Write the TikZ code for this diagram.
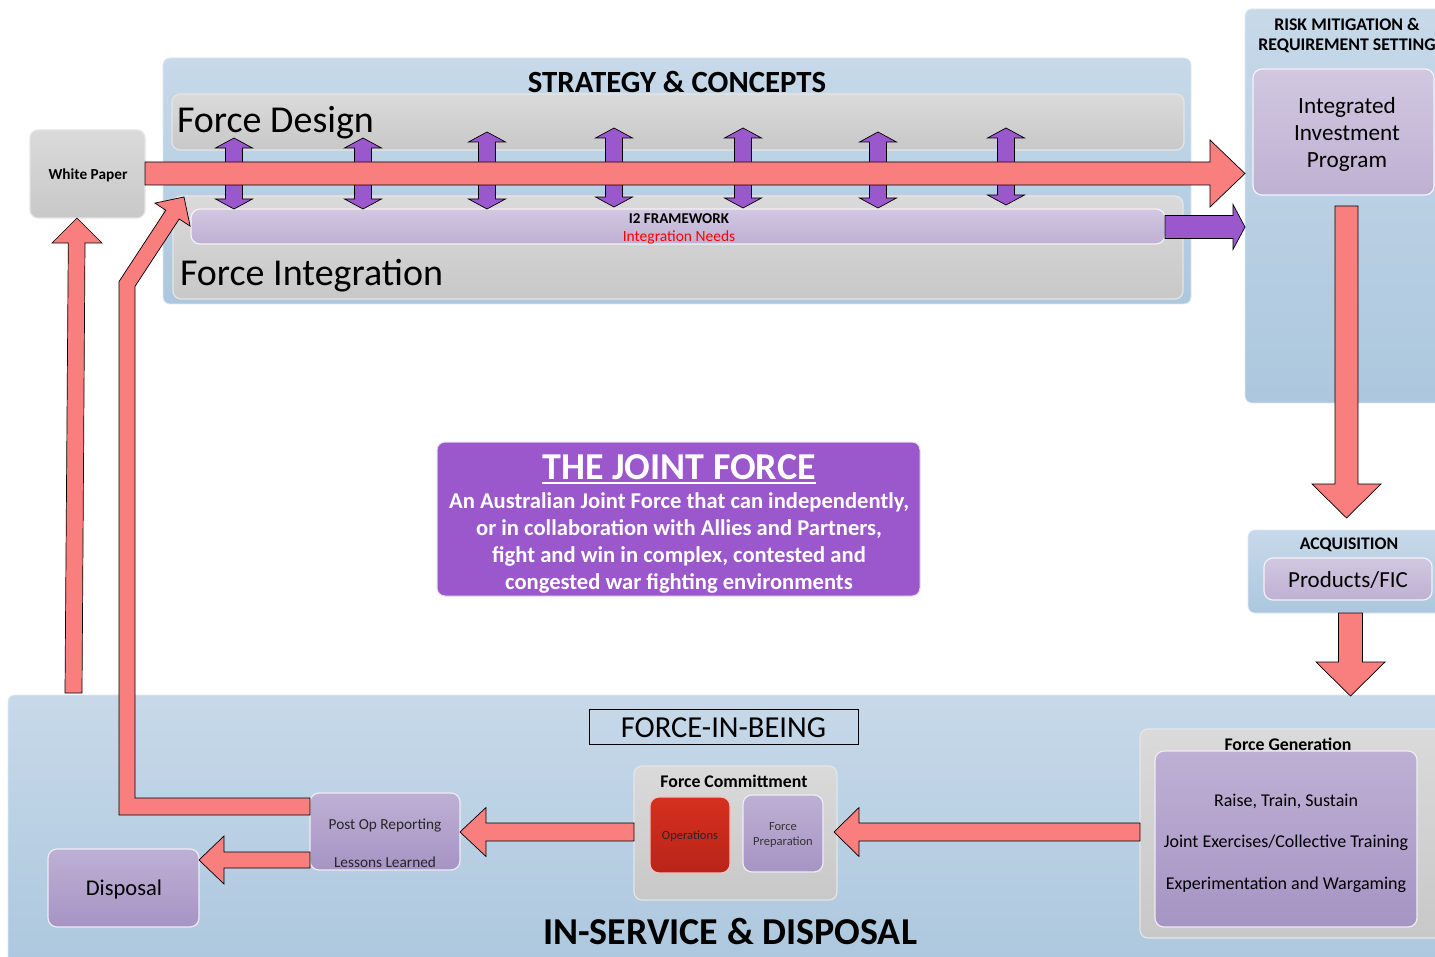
\documentclass[tikz,border=0pt]{standalone}
\usepackage{fontspec}
\setmainfont{Carlito}
\definecolor{pnltop}{RGB}{199,217,233}
\definecolor{pnlbot}{RGB}{172,199,222}
\definecolor{gtop}{RGB}{218,218,218}
\definecolor{gbot}{RGB}{200,200,200}
\definecolor{lavtop}{RGB}{190,176,212}
\definecolor{lavbot}{RGB}{166,148,196}
\definecolor{lavltop}{RGB}{210,200,225}
\definecolor{lavlbot}{RGB}{190,176,210}
\definecolor{salmon}{RGB}{249,126,126}
\definecolor{purp}{RGB}{155,87,204}
\definecolor{redtop}{RGB}{214,48,30}
\definecolor{redbot}{RGB}{184,36,26}
\newcommand\myharrow[7][blockred]{\filldraw[#1] (#2,{#4-#5}) -- ({#3-(#7)},{#4-#5}) -- ({#3-(#7)},{#4-#6}) -- (#3,#4) -- ({#3-(#7)},{#4+#6}) -- ({#3-(#7)},{#4+#5}) -- (#2,{#4+#5}) -- cycle;}
\newcommand\myvarrow[7][blockred]{\filldraw[#1] ({#4-#5},#2) -- ({#4-#5},{#3-(#7)}) -- ({#4-#6},{#3-(#7)}) -- (#4,#3) -- ({#4+#6},{#3-(#7)}) -- ({#4+#5},{#3-(#7)}) -- ({#4+#5},#2) -- cycle;}
\newcommand\mydarrow[3]{\filldraw[blockpur] ({#1-8.5},{#2+10}) -- ({#1-18.5},{#2+10}) -- (#1,#2) -- ({#1+18.5},{#2+10}) -- ({#1+8.5},{#2+10}) -- ({#1+8.5},{#3-10}) -- ({#1+18.5},{#3-10}) -- (#1,#3) -- ({#1-18.5},{#3-10}) -- ({#1-8.5},{#3-10}) -- cycle;}
\begin{document}
\begin{tikzpicture}[x=1pt,y=-1pt,
  every node/.style={inner sep=0pt,outer sep=0pt},
  panel/.style={anchor=north west,rounded corners=7pt,top color=pnltop,bottom color=pnlbot,draw=white!40!pnltop,line width=0.8pt},
  gbox/.style={anchor=north west,rounded corners=8pt,top color=gtop,bottom color=gbot,draw=white!80!gray,line width=1.2pt},
  lav/.style={anchor=north west,rounded corners=9pt,top color=lavtop,bottom color=lavbot,draw=white!75!lavtop,line width=1.2pt},
  lavl/.style={anchor=north west,rounded corners=9pt,top color=lavltop,bottom color=lavlbot,draw=white!75!lavltop,line width=1.2pt},
  redbox/.style={anchor=north west,rounded corners=9pt,top color=redtop,bottom color=redbot,draw=white!70!redtop,line width=1.2pt},
  jfbox/.style={anchor=north west,rounded corners=8pt,fill=purp,draw=white!80!purp,line width=1pt},
  blockred/.style={fill=salmon,draw=black,line width=0.7pt,line join=miter},
  blockpur/.style={fill=purp,draw=black,line width=0.7pt,line join=miter}]
\useasboundingbox (0,0) rectangle (1435,957);
\clip (0,0) rectangle (1435,957);
\fill[white] (0,0) rectangle (1435,957);
% panels
\node[panel,minimum width=1028,minimum height=246] (sc) at (163,58) {};
\node[panel,minimum width=200,minimum height=394] (rm) at (1245,9) {};
\node[panel,minimum width=197,minimum height=83] (acq) at (1248,530) {};
\node[panel,minimum width=1437,minimum height=275] (isd) at (8,695) {};
% gray boxes
\node[gbox,minimum width=1012,minimum height=56] (fd) at (172,94) {};
\node[gbox,minimum width=1010,minimum height=103] (fi) at (173,196) {};
\node[gbox,minimum width=115,minimum height=88] (wp) at (30,130) {};
\node[gbox,minimum width=305,minimum height=209] (fg) at (1140,729) {};
\node[gbox,minimum width=203,minimum height=134] (fc) at (634,766) {};
% lavender boxes
\node[lavl,minimum width=974,minimum height=35] (i2) at (191,209) {};
\node[lavl,minimum width=181,minimum height=126] (iip) at (1253,69) {};
\node[lavl,minimum width=168,minimum height=42] (pf) at (1264,558) {};
\node[lav,minimum width=262,minimum height=176] (fgi) at (1155,751) {};
\node[lav,minimum width=80,minimum height=77] (fp) at (743,795) {};
\node[redbox,minimum width=80,minimum height=76] (ops) at (650,797) {};
\node[lav,minimum width=150,minimum height=77] (po) at (310,793) {};
\node[lav,minimum width=151,minimum height=78] (disp) at (48,849) {};
\node[jfbox,minimum width=483,minimum height=154] (jf) at (437,442) {};
\node[anchor=north west,draw=black,line width=0.8pt,minimum width=269,minimum height=35] (fib) at (589,709) {};
% texts
\node[font=\bfseries\fontsize{30.8}{30.8}\selectfont] (sct) at (677,82) {STRATEGY \& CONCEPTS};
\node[anchor=base west,font=\fontsize{38}{38}\selectfont] (fdt) at (177,133) {Force Design};
\node[anchor=base west,font=\fontsize{38}{38}\selectfont] (fit) at (180,286) {Force Integration};
\node[font=\bfseries\fontsize{15}{15}\selectfont] (i2t) at (679,219) {I2 FRAMEWORK};
\node[font=\fontsize{15.5}{15.5}\selectfont,text=red] (int) at (679,237) {Integration Needs};
\node[font=\bfseries\fontsize{15.3}{15.3}\selectfont] (wpt) at (88,175) {White Paper};
\node[font=\bfseries\fontsize{17.8}{20}\selectfont,align=center] (rmt) at (1347,35) {RISK MITIGATION \&\\REQUIREMENT SETTING};
\node[font=\fontsize{23.2}{27}\selectfont,align=center] (iipt) at (1347,134) {Integrated\\Investment\\Program};
\node[font=\bfseries\fontsize{17.7}{17.7}\selectfont] (acqt) at (1349,545) {ACQUISITION};
\node[font=\fontsize{23}{23}\selectfont] (pft) at (1348,580) {Products/FIC};
\node[font=\bfseries\fontsize{38}{38}\selectfont,text=white] (jft) at (679,467) {THE JOINT FORCE};
\draw[white,line width=2pt] ([yshift=-4pt]jft.base west) -- ([yshift=-4pt]jft.base east);
\node[font=\bfseries\fontsize{22.6}{27}\selectfont,text=white,align=center] (jfb) at (679,543) {An Australian Joint Force that can independently,\\or in collaboration with Allies and Partners,\\fight and win in complex, contested and\\congested war fighting environments};
\node[font=\fontsize{30.5}{30.5}\selectfont] (fibt) at ([yshift=-1pt]fib.center) {FORCE-IN-BEING};
\node[font=\bfseries\fontsize{38}{38}\selectfont] (isdt) at (730,932) {IN-SERVICE \& DISPOSAL};
\node[font=\bfseries\fontsize{17.8}{17.8}\selectfont] (fgt) at (1288,744) {Force Generation};
\node[font=\fontsize{18}{41.5}\selectfont,align=center] (fgb) at (1286,843) {Raise, Train, Sustain\\Joint Exercises/Collective Training\\Experimentation and Wargaming};
\node[font=\bfseries\fontsize{17.8}{17.8}\selectfont] (fct) at (734,781) {Force Committment};
\node[font=\fontsize{12.5}{12.5}\selectfont,text=black!85] (opst) at (690,836) {Operations};
\node[font=\fontsize{12.5}{15}\selectfont,align=center,text=black!80] (fpt) at (783,835) {Force\\Preparation};
\node[font=\fontsize{15.3}{15.3}\selectfont,text=black!85] (pot1) at (385,826) {Post Op Reporting};
\node[font=\fontsize{15.3}{15.3}\selectfont,text=black!85] (pot2) at (385,862) {Lessons Learned};
\node[font=\fontsize{22.5}{22.5}\selectfont] (dispt) at (124,889) {Disposal};
% purple double arrows
\mydarrow{234}{138}{209}
\mydarrow{363}{138}{209}
\mydarrow{487}{132}{209}
\mydarrow{614}{128}{207}
\mydarrow{743}{128}{208}
\mydarrow{878}{132}{208}
\mydarrow{1006}{128}{205}
% block arrows
\myharrow{145}{1245}{173.5}{11.5}{33.5}{35}
\myharrow[blockpur]{1165}{1245}{227}{11.5}{22.5}{12}
\myvarrow{206}{518}{1346.5}{11.5}{34.5}{34}
\myvarrow{613}{696}{1350.5}{12}{34.5}{34}
\myharrow{1140}{834}{832}{9}{24.5}{-25}
\myharrow{634}{460}{832}{9}{24.5}{-26}
\myharrow{310}{199}{860}{8}{24}{-25}
\filldraw[blockred] (65,693) -- (68.3,243) -- (52,243) -- (77,218) -- (102,243) -- (85,243) -- (82,693) -- cycle;
\filldraw[blockred] (310,798) -- (135,798) -- (135,286.4) -- (179.2,219) -- (190.1,226.1) -- (184,197) -- (154.9,203.1) -- (165.8,210.2) -- (119,281.6) -- (119,815) -- (310,815) -- cycle;
\end{tikzpicture}
\end{document}
